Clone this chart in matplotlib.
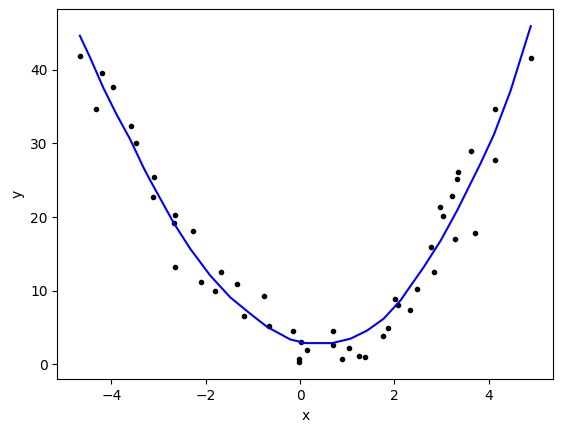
import matplotlib
matplotlib.use("Agg")
import matplotlib.pyplot as plt

# scatter data
x_pts = [-4.66, -4.32, -4.21, -3.96, -3.58, -3.47, -3.11, -3.09, -2.68, -2.66,
         -2.66, -2.28, -2.11, -1.81, -1.67, -1.33, -1.18, -0.77, -0.67, -0.16,
         -0.03, -0.03, 0.01, 0.14, 0.69, 0.69, 0.88, 1.03, 1.24, 1.37,
         1.75, 1.86, 2.01, 2.07, 2.32, 2.47, 2.78, 2.83, 2.96, 3.02,
         3.21, 3.28, 3.32, 3.34, 3.62, 3.70, 4.13, 4.13, 4.89]
y_pts = [41.9, 34.7, 39.5, 37.6, 32.3, 30.0, 22.7, 25.4, 19.2, 20.3,
         13.2, 18.1, 11.2, 10.0, 12.6, 10.9, 6.6, 9.3, 5.2, 4.6,
         0.8, 0.27, 3.1, 1.9, 4.6, 2.6, 0.7, 2.3, 1.2, 0.95,
         3.8, 4.9, 8.9, 8.1, 7.4, 10.3, 15.9, 12.6, 21.4, 20.1,
         22.8, 17.0, 25.1, 26.1, 28.9, 17.8, 27.7, 34.6, 41.6]

# fitted curve
x_fit = [-4.67, -4.45, -4.17, -3.89, -3.60, -3.32, -3.18, -2.68, -2.33, -1.91,
         -1.48, -1.06, -0.70, -0.21, 0.11, 0.68, 1.07, 1.42, 1.77, 2.13,
         2.27, 2.62, 2.98, 3.33, 3.61, 3.82, 4.11, 4.46, 4.89]
y_fit = [44.6, 41.6, 37.5, 33.9, 30.5, 26.7, 25.0, 19.2, 15.7, 12.1,
         9.1, 6.9, 5.1, 3.4, 2.9, 2.9, 3.5, 4.6, 6.2, 8.7,
         10.0, 13.2, 16.8, 20.9, 24.5, 27.2, 31.2, 37.1, 45.9]

fig = plt.figure(figsize=(5.63, 4.32), dpi=100)
ax = fig.add_axes([57.3 / 563, 52.7 / 432, 496 / 563, 370 / 432])
ax.plot(x_pts, y_pts, 'k.')
ax.plot(x_fit, y_fit, 'b-')
ax.set_xlabel('x')
ax.set_ylabel('y')
fig.savefig('out.png', dpi=100)
